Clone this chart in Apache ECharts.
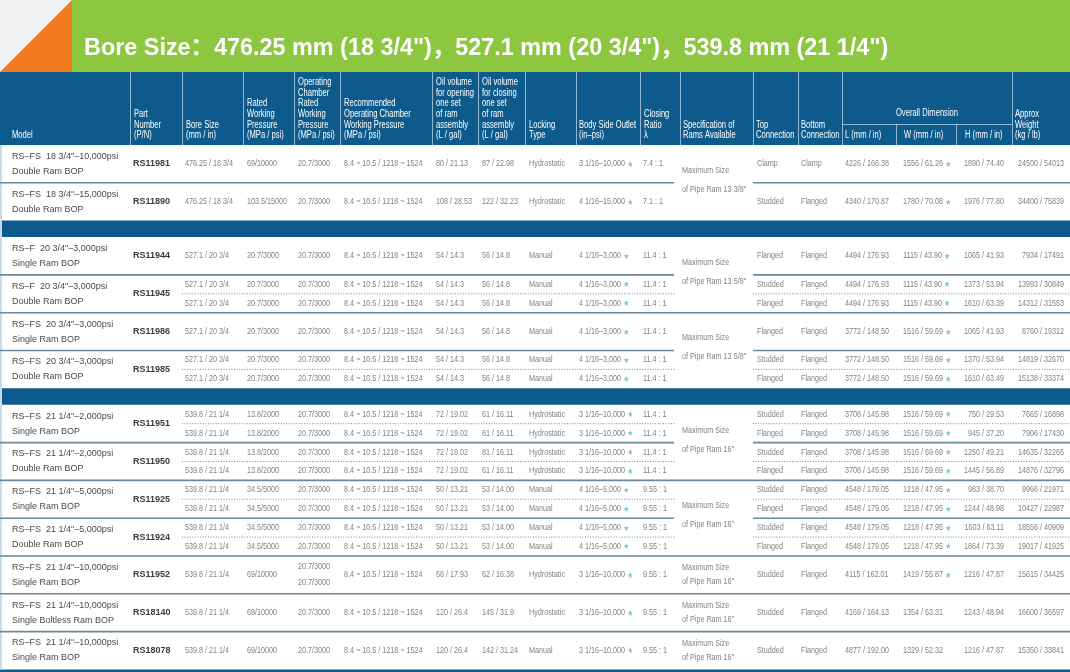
<!DOCTYPE html>
<html><head><meta charset="utf-8">
<script src="https://cdn.jsdelivr.net/npm/echarts@6/dist/echarts.min.js"></script>
<style>html,body{margin:0;padding:0;background:#fff}#c{width:1070px;height:672px}</style>
</head><body><div id="c"></div>
<script>
// ================= DATA =================
const titleText = 'Bore Size：476.25 mm (18 3/4")，527.1 mm (20 3/4")，539.8 mm (21 1/4")';

const headerLabels = [
  ['Model'], ['Part','Number','(P/N)'], ['Bore Size','(mm / in)'],
  ['Rated','Working','Pressure','(MPa / psi)'],
  ['Operating','Chamber','Rated','Working','Pressure','(MPa / psi)'],
  ['Recommended','Operating Chamber','Working Pressure','(MPa / psi)'],
  ['Oil volume','for opening','one set','of ram','assembly','(L / gal)'],
  ['Oil volume','for closing','one set','of ram','assembly','(L / gal)'],
  ['Locking','Type'], ['Body Side Outlet','(in–psi)'], ['Closing','Ratio','λ'],
  ['Specification of','Rams Available'], ['Top','Connection'], ['Bottom','Connection'],
  ['L (mm / in)'], ['W (mm / in)'], ['H (mm / in)'], ['Approx','Weight','(kg / lb)']
];
const groupHeaderLabel = 'Overall Dimension';

const sectionGroupCounts = [2, 4, 7];

const modelNames = [
  ['RS–FS  18 3/4"–10,000psi','Double Ram BOP'],
  ['RS–FS  18 3/4"–15,000psi','Double Ram BOP'],
  ['RS–F  20 3/4"–3,000psi','Single Ram BOP'],
  ['RS–F  20 3/4"–3,000psi','Double Ram BOP'],
  ['RS–FS  20 3/4"–3,000psi','Single Ram BOP'],
  ['RS–FS  20 3/4"–3,000psi','Double Ram BOP'],
  ['RS–FS  21 1/4"–2,000psi','Single Ram BOP'],
  ['RS–FS  21 1/4"–2,000psi','Double Ram BOP'],
  ['RS–FS  21 1/4"–5,000psi','Single Ram BOP'],
  ['RS–FS  21 1/4"–5,000psi','Double Ram BOP'],
  ['RS–FS  21 1/4"–10,000psi','Single Ram BOP'],
  ['RS–FS  21 1/4"–10,000psi','Single Boltless Ram BOP'],
  ['RS–FS  21 1/4"–10,000psi','Single Ram BOP']
];
const partNumbers = ['RS11981','RS11890','RS11944','RS11945','RS11986','RS11985','RS11951','RS11950','RS11925','RS11924','RS11952','RS18140','RS18078'];

// which model group each sub-row belongs to
const subRowGroup = [0,1,2,3,3,4,5,5,6,6,7,7,8,8,9,9,10,11,12];

const boreSize = ['476.25 / 18 3/4','476.25 / 18 3/4','527.1 / 20 3/4','527.1 / 20 3/4','527.1 / 20 3/4','527.1 / 20 3/4','527.1 / 20 3/4','527.1 / 20 3/4','539.8 / 21 1/4','539.8 / 21 1/4','539.8 / 21 1/4','539.8 / 21 1/4','539.8 / 21 1/4','539.8 / 21 1/4','539.8 / 21 1/4','539.8 / 21 1/4','539.8 / 21 1/4','539.8 / 21 1/4','539.8 / 21 1/4'];
const ratedPressure = ['69/10000','103.5/15000','20.7/3000','20.7/3000','20.7/3000','20.7/3000','20.7/3000','20.7/3000','13.8/2000','13.8/2000','13.8/2000','13.8/2000','34.5/5000','34.5/5000','34.5/5000','34.5/5000','69/10000','69/10000','69/10000'];
const chamberPressure = ['20.7/3000','20.7/3000','20.7/3000','20.7/3000','20.7/3000','20.7/3000','20.7/3000','20.7/3000','20.7/3000','20.7/3000','20.7/3000','20.7/3000','20.7/3000','20.7/3000','20.7/3000','20.7/3000','20.7/3000\n20.7/3000','20.7/3000','20.7/3000'];
const recommendedPressure = ['8.4 ~ 10.5 / 1218 ~ 1524','8.4 ~ 10.5 / 1218 ~ 1524','8.4 ~ 10.5 / 1218 ~ 1524','8.4 ~ 10.5 / 1218 ~ 1524','8.4 ~ 10.5 / 1218 ~ 1524','8.4 ~ 10.5 / 1218 ~ 1524','8.4 ~ 10.5 / 1218 ~ 1524','8.4 ~ 10.5 / 1218 ~ 1524','8.4 ~ 10.5 / 1218 ~ 1524','8.4 ~ 10.5 / 1218 ~ 1524','8.4 ~ 10.5 / 1218 ~ 1524','8.4 ~ 10.5 / 1218 ~ 1524','8.4 ~ 10.5 / 1218 ~ 1524','8.4 ~ 10.5 / 1218 ~ 1524','8.4 ~ 10.5 / 1218 ~ 1524','8.4 ~ 10.5 / 1218 ~ 1524','8.4 ~ 10.5 / 1218 ~ 1524','8.4 ~ 10.5 / 1218 ~ 1524','8.4 ~ 10.5 / 1218 ~ 1524'];
const oilOpening = ['80 / 21.13','108 / 28.53','54 / 14.3','54 / 14.3','54 / 14.3','54 / 14.3','54 / 14.3','54 / 14.3','72 / 19.02','72 / 19.02','72 / 19.02','72 / 19.02','50 / 13.21','50 / 13.21','50 / 13.21','50 / 13.21','68 / 17.93','120 / 26.4','120 / 26.4'];
const oilClosing = ['87 / 22.98','122 / 32.23','56 / 14.8','56 / 14.8','56 / 14.8','56 / 14.8','56 / 14.8','56 / 14.8','61 / 16.11','61 / 16.11','81 / 16.11','61 / 16.11','53 / 14.00','53 / 14.00','53 / 14.00','53 / 14.00','62 / 16.38','145 / 31.9','142 / 31.24'];
const lockingType = ['Hydrostatic','Hydrostatic','Manual','Manual','Manual','Manual','Manual','Manual','Hydrostatic','Hydrostatic','Hydrostatic','Hydrostatic','Manual','Manual','Manual','Manual','Hydrostatic','Hydrostatic','Manual'];
const bodySideOutlet = ['3 1/16–10,000★','4 1/16–15,000★','4 1/16–3,000★','4 1/16–3,000★','4 1/16–3,000★','4 1/16–3,000★','4 1/16–3,000★','4 1/16–3,000★','3 1/16–10,000★','3 1/16–10,000★','3 1/16–10,000★','3 1/16–10,000★','4 1/16–5,000★','4 1/16–5,000★','4 1/16–5,000★','4 1/16–5,000★','3 1/16–10,000★','3 1/16–10,000★','3 1/16–10,000★'];
const closingRatio = ['7.4 : 1','7.1 : 1','11.4 : 1','11.4 : 1','11.4 : 1','11.4 : 1','11.4 : 1','11.4 : 1','11.4 : 1','11.4 : 1','11.4 : 1','11.4 : 1','9.55 : 1','9.55 : 1','9.55 : 1','9.55 : 1','9.55 : 1','9.55 : 1','9.55 : 1'];
const topConnection = ['Clamp','Studded','Flanged','Studded','Flanged','Flanged','Studded','Flanged','Studded','Flanged','Studded','Flanged','Studded','Flanged','Studded','Flanged','Studded','Studded','Studded'];
const bottomConnection = ['Clamp','Flanged','Flanged','Flanged','Flanged','Flanged','Flanged','Flanged','Flanged','Flanged','Flanged','Flanged','Flanged','Flanged','Flanged','Flanged','Flanged','Flanged','Flanged'];
const dimL = ['4226 / 166.38','4340 / 170.87','4494 / 176.93','4494 / 176.93','4494 / 176.93','3772 / 148.50','3772 / 148.50','3772 / 148.50','3708 / 145.98','3708 / 145.98','3708 / 145.98','3708 / 145.98','4548 / 179.05','4548 / 179.05','4548 / 179.05','4548 / 179.05','4115 / 162.01','4169 / 164.13','4877 / 192.00'];
const dimW = ['1556 / 61.26★','1780 / 70.08★','1115 / 43.90★','1115 / 43.90★','1115 / 43.90★','1516 / 59.69★','1516 / 59.69★','1516 / 59.69★','1516 / 59.69★','1516 / 59.69★','1516 / 59.69★','1516 / 59.69★','1218 / 47.95★','1218 / 47.95★','1218 / 47.95★','1218 / 47.95★','1419 / 55.87★','1354 / 53.31','1329 / 52.32'];
const dimH = ['1890 / 74.40','1976 / 77.80','1065 / 41.93','1373 / 53.94','1610 / 63.39','1065 / 41.93','1370 / 53.94','1610 / 63.49','750 / 29.53','945 / 37.20','1250 / 49.21','1445 / 56.89','983 / 38.70','1244 / 48.98','1603 / 63.11','1864 / 73.39','1216 / 47.87','1243 / 48.94','1216 / 47.87'];
const approxWeight = ['24500 / 54013','34400 / 75839','7934 / 17491','13993 / 30849','14312 / 31553','8760 / 19312','14819 / 32670','15138 / 33374','7665 / 16898','7906 / 17430','14635 / 32265','14876 / 32796','9966 / 21971','10427 / 22987','18556 / 40909','19017 / 41925','15615 / 34425','16600 / 36597','15350 / 33841'];

const specLabels = [
  ['Maximum Size','of Pipe Ram 13 3/8"'],
  ['Maximum Size','of Pipe Ram 13 5/8"'],
  ['Maximum Size','of Pipe Ram 13 5/8"'],
  ['Maximum Size','of Pipe Ram 16"'],
  ['Maximum Size','of Pipe Ram 16"'],
  ['Maximum Size','of Pipe Ram 16"'],
  ['Maximum Size','of Pipe Ram 16"'],
  ['Maximum Size','of Pipe Ram 16"']
];
const specGroupSpans = [[0,1],[2,3],[4,5],[6,7],[8,9],[10,10],[11,11],[12,12]];

// ================= LAYOUT / STYLE =================
const W = 1070, H = 672;
const FONT = '"Liberation Sans", Arial, "Noto Sans CJK SC", sans-serif';
const BLUE = '#0d5b8d', GREEN = '#8dc63f', ORANGE = '#f27c1f';
const colEdges = [0,130,182,243,294,340,432,478,525,576,640,680,753,798,842,896,956,1012,1070];
const headerX = [12,134,186,247,298,344,436,482,529,579,644,683,756,801,845,904,965,1015];
const bodyX = {2:185,3:247,4:298,5:344,6:436,7:482,8:529,9:579,10:643,12:757,13:801,14:845,15:903,16:1004,17:1064};
const bodyAlign = {16:'right',17:'right'};
const bodyColumns = {2:boreSize,3:ratedPressure,4:chamberPressure,5:recommendedPressure,6:oilOpening,7:oilClosing,8:lockingType,9:bodySideOutlet,10:closingRatio,12:topConnection,13:bottomConnection,14:dimL,15:dimW,16:dimH,17:approxWeight};
const headerTop = 72, headerBottom = 145, groupH = 37.8, bandH = 16.5;
const specLeft = 674, specRight = 753;
const DATA_SX = 0.8, DATA_FILL = '#828282';

const items = [];
const rect = (x,y,w,h,fill) => items.push({t:'rect',x,y,w,h,fill});
const poly = (pts,fill) => items.push({t:'poly',pts,fill});
const line = (x1,y1,x2,y2,stroke,lw,dash) => items.push({t:'line',x1,y1,x2,y2,stroke,lw,dash});
const text = (x,y,str,o) => items.push(Object.assign({t:'text',x,y,str,size:9,fill:'#888',align:'left',sx:1,weight:'normal'},o||{}));

// banner
rect(0,0,W,headerTop,GREEN);
rect(0,0,72,72,'#f1f1f1');
poly([[72,0],[72,72],[0,72]],ORANGE);
text(84,49,titleText,{size:23.4,weight:'bold',fill:'#ffffff'});

// header
rect(0,headerTop,W,headerBottom-headerTop,BLUE);
for (let i=1;i<colEdges.length-1;i++){
  const e = colEdges[i];
  const y1 = (e===896||e===956) ? 124 : headerTop;
  line(e+0.5,y1,e+0.5,headerBottom,'rgba(190,215,235,0.75)',1);
}
line(842,124.5,1012,124.5,'rgba(190,215,235,0.75)',1);
headerLabels.forEach((lines,c)=>{
  const n = lines.length;
  lines.forEach((s,k)=>{
    text(headerX[c],135.5-(n-1-k)*10.6,s,{size:10,fill:'#ffffff',sx:0.76});
  });
});
text(927,113.5,groupHeaderLabel,{size:10,fill:'#ffffff',sx:0.76,align:'center'});

// rows layout
const groupTop=[], groupBottom=[], groupSection=[];
let y = headerBottom, gi = 0;
sectionGroupCounts.forEach((n,s)=>{
  if (s>0){ rect(0,y,W,bandH,BLUE); y+=bandH; }
  for (let k=0;k<n;k++){ groupTop[gi]=y; y+=groupH; groupBottom[gi]=y; groupSection[gi]=s; gi++; }
});
rect(0,y,W,H-y,BLUE);
line(1,headerBottom,1,y,'#c9dce9',2);

// group separators
const specOf = g => specGroupSpans.findIndex(sp=>g>=sp[0]&&g<=sp[1]);
for (let g=0; g<partNumbers.length-1; g++){
  if (groupSection[g]!==groupSection[g+1]) continue;
  const yy = groupBottom[g];
  if (specOf(g)===specOf(g+1)){
    line(0,yy,specLeft,yy,'#6e8799',1.6);
    line(specRight,yy,W,yy,'#6e8799',1.6);
  } else line(0,yy,W,yy,'#6e8799',1.6);
}

// model & part number
partNumbers.forEach((pn,g)=>{
  const cy=(groupTop[g]+groupBottom[g])/2;
  text(12,cy-7.5,modelNames[g][0],{fill:'#4a4a4a'});
  text(12,cy+7.5,modelNames[g][1],{fill:'#4a4a4a'});
  text(133,cy,pn,{weight:'bold',fill:'#3c3c3c'});
});

// sub-rows
subRowGroup.forEach((g,r)=>{
  const members = subRowGroup.map((gg,i)=>gg===g?i:-1).filter(i=>i>=0);
  const k = members.indexOf(r), n = members.length;
  const h = groupH/n;
  const cy = groupTop[g]+(k+0.5)*h;
  if (k>0){
    const yy = groupTop[g]+k*h;
    line(182,yy,specLeft+2,yy,'#5b8dba',1,[1,1.6]);
    line(specRight,yy,W,yy,'#5b8dba',1,[1,1.6]);
  }
  Object.keys(bodyColumns).forEach(c=>{
    const v = bodyColumns[c][r];
    const parts = v.split('\n');
    parts.forEach((s,j)=>{
      const yy = cy + (j-(parts.length-1)/2)*16;
      text(bodyX[c],yy,s,{fill:DATA_FILL,sx:DATA_SX,align:bodyAlign[c]||'left'});
    });
  });
});

// spec merged cells
specGroupSpans.forEach((sp,i)=>{
  const top=groupTop[sp[0]], bot=groupBottom[sp[1]];
  const cy=(top+bot)/2;
  const dbl = sp[0]!==sp[1];
  const off = dbl?-3:0, d = dbl?9.5:7;
  text(682,cy+off-d,specLabels[i][0],{fill:DATA_FILL,sx:DATA_SX});
  text(682,cy+off+d,specLabels[i][1],{fill:DATA_FILL,sx:DATA_SX});
});

// ================= CHART =================
const chart = echarts.init(document.getElementById('c'),null,{renderer:'canvas'});
chart.setOption({
  animation:false,
  grid:{left:0,right:0,top:0,bottom:0},
  xAxis:{type:'value',min:0,max:W,show:false},
  yAxis:{type:'value',min:0,max:H,inverse:true,show:false},
  series:[{
    type:'custom',
    silent:true,
    clip:false,
    data:items.map((d,i)=>[0,0,i]),
    renderItem:function(params,api){
      const d = items[api.value(2)];
      const P = (x,yy)=>api.coord([x,yy]);
      if (d.t==='rect'){
        const a=P(d.x,d.y), b=P(d.x+d.w,d.y+d.h);
        return {type:'rect',shape:{x:a[0],y:a[1],width:b[0]-a[0],height:b[1]-a[1]},style:{fill:d.fill}};
      }
      if (d.t==='poly'){
        return {type:'polygon',shape:{points:d.pts.map(p=>P(p[0],p[1]))},style:{fill:d.fill}};
      }
      if (d.t==='line'){
        const a=P(d.x1,d.y1), b=P(d.x2,d.y2);
        return {type:'line',shape:{x1:a[0],y1:a[1],x2:b[0],y2:b[1]},style:{stroke:d.stroke,lineWidth:d.lw,lineDash:d.dash||null}};
      }
      const c=P(d.x,d.y);
      const font = d.weight+' '+d.size+'px '+FONT;
      const style={fill:d.fill,font:font,textAlign:d.align,textVerticalAlign:'middle'};
      if (d.str.indexOf('★')>=0){
        style.text='{v|'+d.str.replace('★','')+'}{s|★}';
        style.rich={v:{fill:d.fill,font:font},s:{fill:'#7cc3d6',font:(d.size-2)+'px '+FONT,padding:[0,0,0,3]}};
      } else style.text=d.str;
      return {type:'text',x:c[0],y:c[1],scaleX:d.sx,style:style};
    }
  }]
});
</script>
</body></html>
